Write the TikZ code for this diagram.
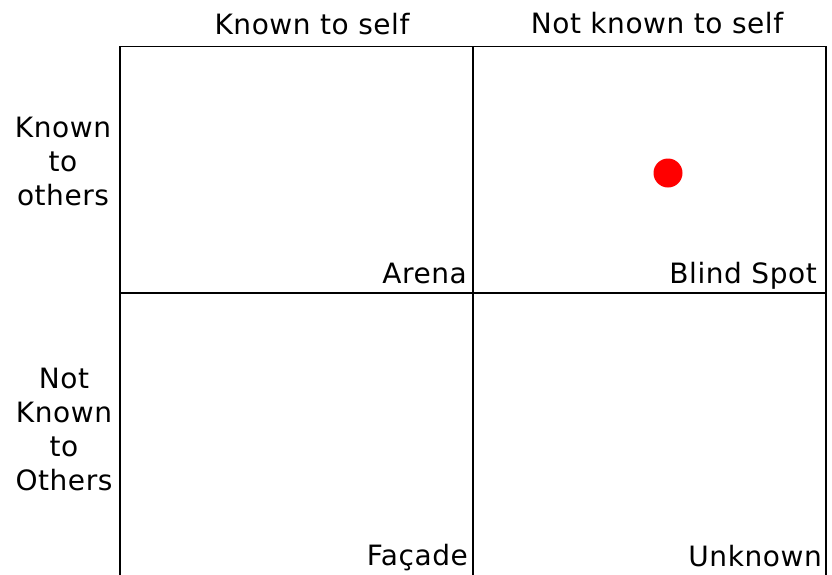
\documentclass[tikz,border=0pt]{standalone}
\usepackage{fontspec}
\setmainfont{DejaVu Sans}[LetterSpace=2]
\usepackage{xcolor}
\usetikzlibrary{positioning}

\tikzset{
  head/.style={font=\fontsize{28}{34}\selectfont,inner sep=0pt,anchor=base},
  side/.style={font=\fontsize{28}{34}\selectfont,inner sep=0pt,anchor=north,align=center},
  corner/.style={font=\fontsize{28}{34}\selectfont,inner sep=0pt,anchor=base east}
}

\begin{document}
\begin{tikzpicture}[x=1pt,y=-1pt]
  \useasboundingbox (0,0) rectangle (832,574);
  \clip (0,0) rectangle (832,574);
  % the grid
  \coordinate (TL) at (120,46.5);
  \coordinate (TM) at (473,46.5);
  \coordinate (TR) at (826,46.5);
  \coordinate (ML) at (120,293);
  \coordinate (MR) at (826,293);
  \coordinate (BL) at (120,590);
  \coordinate (BM) at (473,590);
  \coordinate (BR) at (826,590);
  \draw[line width=1.5pt] (BL)--(TL)--(TR)--(BR);
  \draw[line width=1.5pt] (TM)--(BM);
  \draw[line width=1.5pt] (ML)--(MR);
  % headings
  \node[head] (self) at (312,34.5) {Known to self};
  \node[head] (notself) at (657,33) {Not known to self};
  \node[side] (others) at (63,117) {Known\\to\\others};
  \node[side] (notothers) at (64,368) {Not\\Known\\to\\Others};
  % quadrants
  \node[corner] (arena) at (467,283) {Arena};
  \node[corner] (blind) at (817,283) {Blind Spot};
  \node[corner] (facade) at (468,565) {Façade};
  \node[corner] (unknown) at (822,566) {Unknown};
  \fill[red] (668,173) circle (14.5);
\end{tikzpicture}
\end{document}
